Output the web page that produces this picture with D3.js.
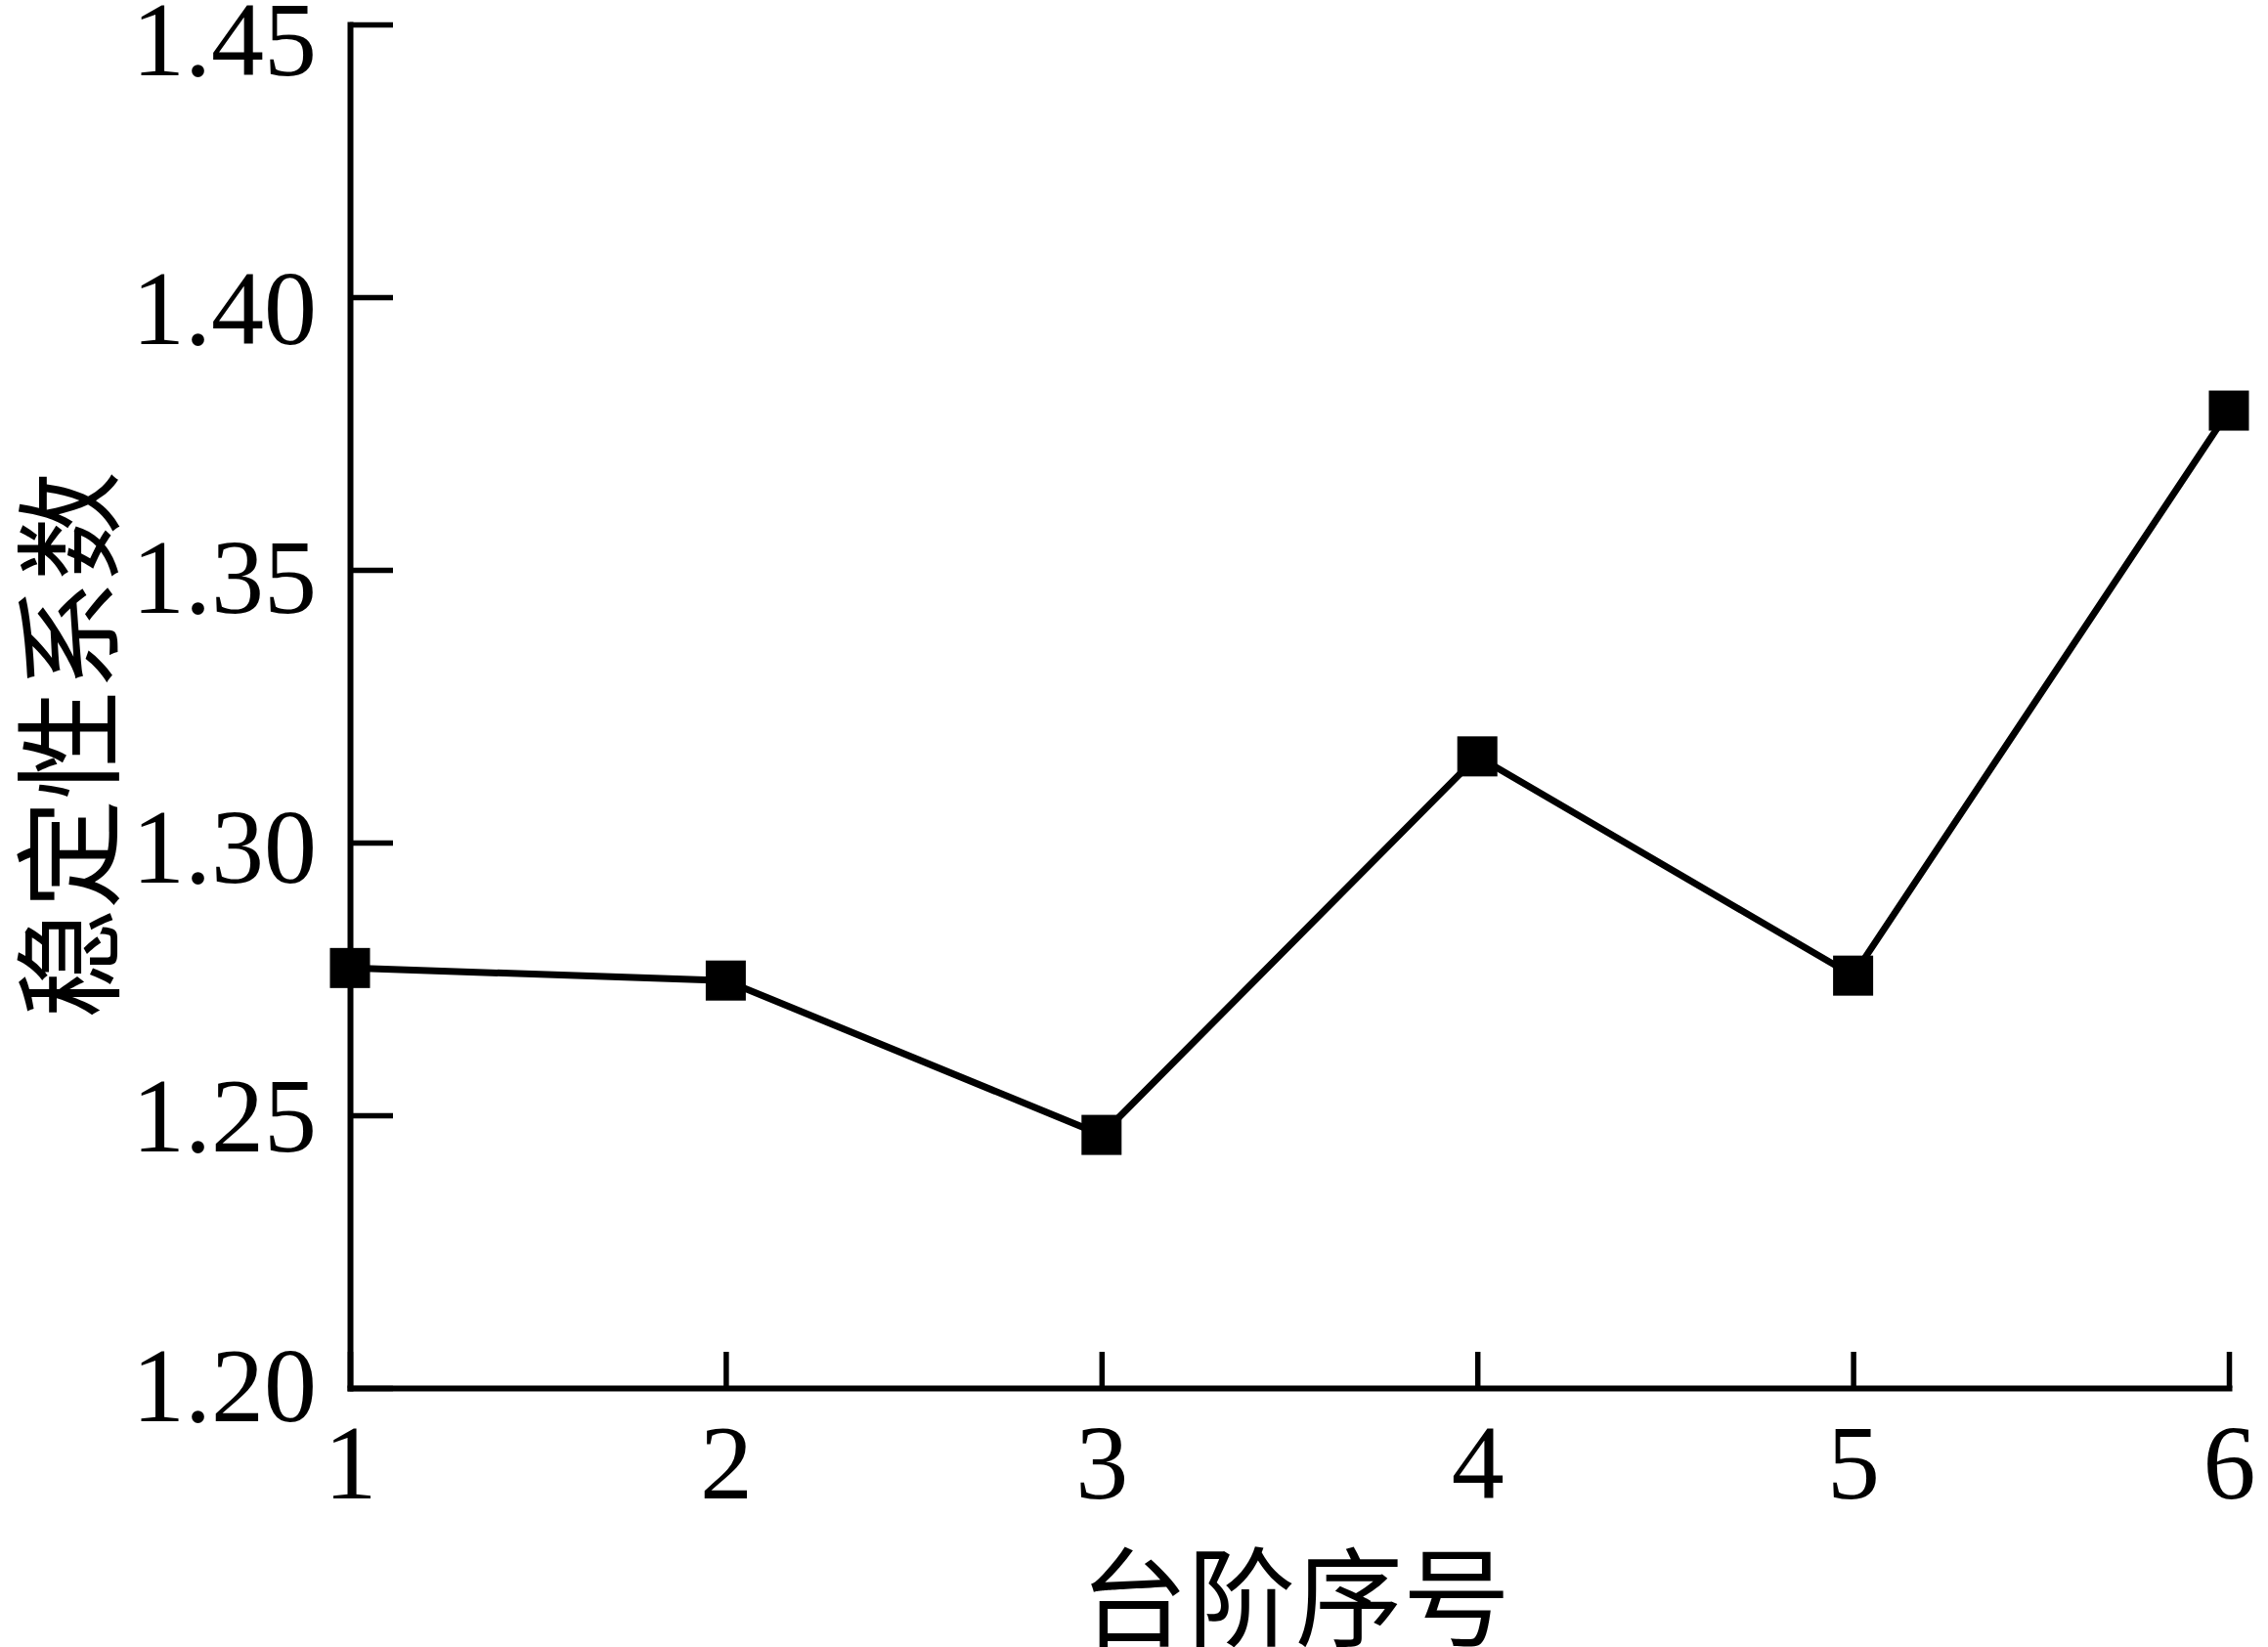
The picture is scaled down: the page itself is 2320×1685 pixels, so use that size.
<!DOCTYPE html>
<html>
<head>
<meta charset="utf-8">
<script src="https://cdn.jsdelivr.net/npm/d3@7"></script>
<style>
  html, body { margin: 0; padding: 0; background: #fff; }
  svg { display: block; }
</style>
</head>
<body>
<svg id="chart" width="2320" height="1685"></svg>
<script>
// ---- data ----
const steps = [1, 2, 3, 4, 5, 6];
const stability = [1.277, 1.2747, 1.2464, 1.3158, 1.2756, 1.3792];
const yTicks = [1.20, 1.25, 1.30, 1.35, 1.40, 1.45];
const xTicks = [1, 2, 3, 4, 5, 6];
const xTitle = "台阶序号";
const yTitle = "稳定性系数";

// ---- layout ----
const plotLeft = 358, plotRight = 2280, plotTop = 25, plotBottom = 1420;
const svg = d3.select("#chart");

const x = d3.scaleLinear().domain([1, 6]).range([plotLeft, plotRight]);
const y = d3.scaleLinear().domain([1.20, 1.45]).range([plotBottom, plotTop]);

const serif = "'Liberation Serif', 'Times New Roman', Times, serif";
const cjk = "'Noto Sans CJK SC', sans-serif";

// y axis
const yAxis = svg.append("g")
  .attr("transform", `translate(${plotLeft},0)`)
  .call(d3.axisLeft(y).tickValues(yTicks).tickFormat(d3.format(".2f"))
        .tickSizeInner(-44).tickSizeOuter(0).tickPadding(34));
// x axis
const xAxis = svg.append("g")
  .attr("transform", `translate(0,${plotBottom})`)
  .call(d3.axisBottom(x).tickValues(xTicks).tickFormat(d3.format("d"))
        .tickSizeInner(-37).tickSizeOuter(0).tickPadding(36));

[yAxis, xAxis].forEach(g => {
  g.select(".domain").attr("stroke", "#000").attr("stroke-width", 6).attr("stroke-linecap", "square");
  g.selectAll(".tick line").attr("stroke", "#000").attr("stroke-width", 5.5);
  g.selectAll(".tick text").attr("fill", "#000")
    .style("font-family", serif).style("font-size", "108px");
});
// baseline offset of y labels (slightly lower near the top, as in the source figure)
yAxis.selectAll(".tick text")
  .attr("dy", null)
  .attr("y", d => 33 + 18 * (d - 1.20) / 0.25);

// line
const line = d3.line().x((d, i) => x(steps[i])).y(d => y(d));
svg.append("path")
  .datum(stability)
  .attr("fill", "none")
  .attr("stroke", "#000")
  .attr("stroke-width", 7)
  .attr("stroke-linejoin", "miter")
  .attr("d", line);

// markers
const ms = 41;
svg.append("g").selectAll("rect")
  .data(stability)
  .join("rect")
  .attr("x", (d, i) => x(steps[i]) - ms / 2)
  .attr("y", d => y(d) - ms / 2)
  .attr("width", ms)
  .attr("height", ms)
  .attr("fill", "#000");

// axis titles
svg.append("text")
  .attr("x", 1325)
  .attr("y", 1628)
  .attr("text-anchor", "middle")
  .attr("dominant-baseline", "central")
  .style("font-family", cjk)
  .style("font-size", "110px")
  .attr("fill", "#000")
  .text(xTitle);

svg.append("text")
  .attr("transform", `translate(64, 762) rotate(-90)`)
  .attr("text-anchor", "middle")
  .attr("dominant-baseline", "central")
  .style("font-family", cjk)
  .style("font-size", "112px")
  .attr("fill", "#000")
  .text(yTitle);
</script>
</body>
</html>
